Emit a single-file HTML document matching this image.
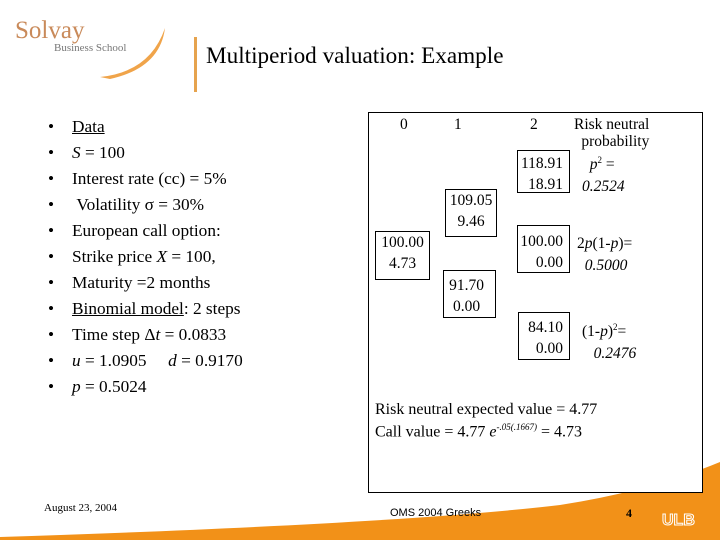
<!DOCTYPE html>
<html><head><meta charset="utf-8"><style>
body{margin:0}
#s{position:relative;width:720px;height:540px;background:#fff;overflow:hidden;font-family:"Liberation Serif",serif;color:#000}
.a{position:absolute;white-space:nowrap}
.li{position:absolute;left:48px;font-size:17.3px;white-space:nowrap}
.li span.b{position:absolute;left:0}
.li span.t{position:absolute;left:24px}
.nb{position:absolute;border:1px solid #000;font-size:15.5px;text-align:right;line-height:21px;box-sizing:border-box;padding:2px 6px 0 0;background:#fff}
.t15{font-size:15.5px}
</style></head><body>
<div id="s">
<svg class="a" style="left:0;top:0" width="720" height="540">
<path d="M0,537 Q400,524 560,505 Q650,491 720,462 L720,540 L0,540 Z" fill="#f29118"/>
<path d="M100,77 Q150,72 165,28 Q160,68 110,79 Z" fill="#f0a44a"/>
<rect x="194" y="37" width="3" height="55" fill="#e6a34e"/>
</svg>
<div class="a" style="left:15px;top:17px;font-size:25px;color:#c98a5a">Solvay</div>
<div class="a" style="left:54px;top:42px;font-size:11px;color:#777">Business School</div>
<div class="a" style="left:206px;top:43px;font-size:23.2px">Multiperiod valuation: Example</div>

<div>
<div class="li" style="top:117px"><span class="b">•</span><span class="t"><u>Data</u></span></div>
<div class="li" style="top:143px"><span class="b">•</span><span class="t"><i>S</i> = 100</span></div>
<div class="li" style="top:169px"><span class="b">•</span><span class="t">Interest rate (cc) = 5%</span></div>
<div class="li" style="top:195px"><span class="b">•</span><span class="t">&nbsp;Volatility σ = 30%</span></div>
<div class="li" style="top:221px"><span class="b">•</span><span class="t">European call option:</span></div>
<div class="li" style="top:247px"><span class="b">•</span><span class="t">Strike price <i>X</i> = 100,</span></div>
<div class="li" style="top:273px"><span class="b">•</span><span class="t">Maturity =2 months</span></div>
<div class="li" style="top:299px"><span class="b">•</span><span class="t"><u>Binomial model</u>: 2 steps</span></div>
<div class="li" style="top:325px"><span class="b">•</span><span class="t">Time step Δ<i>t</i> = 0.0833</span></div>
<div class="li" style="top:351px"><span class="b">•</span><span class="t"><i>u</i> = 1.0905 &nbsp;&nbsp;&nbsp;&nbsp;<i>d</i> = 0.9170</span></div>
<div class="li" style="top:377px"><span class="b">•</span><span class="t"><i>p</i> = 0.5024</span></div>
</div>

<div class="a" style="left:368px;top:112px;width:335px;height:381px;border:1px solid #000;box-sizing:border-box;background:#fff"></div>
<div class="a t15" style="left:400px;top:116px">0</div>
<div class="a t15" style="left:454px;top:116px">1</div>
<div class="a t15" style="left:530px;top:116px">2</div>
<div class="a t15" style="left:574px;top:116px;line-height:17px;text-align:right">Risk neutral<br>probability</div>

<div class="nb" style="left:517px;top:150px;width:53px;height:43px">118.91<br>18.91</div>
<div class="nb" style="left:445px;top:189px;width:52px;height:48px;text-align:center;padding:0">109.05<br>9.46</div>
<div class="nb" style="left:375px;top:231px;width:55px;height:49px;text-align:center;padding:0">100.00<br>4.73</div>
<div class="nb" style="left:517px;top:225px;width:53px;height:48px;padding-top:5px">100.00<br>0.00</div>
<div class="nb" style="left:443px;top:270px;width:53px;height:48px;text-align:center;padding-top:4px">91.70<br>0.00</div>
<div class="nb" style="left:518px;top:312px;width:52px;height:48px;padding-top:4px">84.10<br>0.00</div>

<div class="a t15" style="left:582px;top:149px;line-height:22px"><i>&nbsp;&nbsp;p</i><sup style="font-size:9px">2</sup> =<br><i>0.2524</i></div>
<div class="a t15" style="left:577px;top:233px;line-height:22px">2<i>p</i>(1-<i>p</i>)=<br><i>&nbsp;&nbsp;0.5000</i></div>
<div class="a t15" style="left:582px;top:316px;line-height:22px">(1-<i>p</i>)<sup style="font-size:9px">2</sup>=<br><i>&nbsp;&nbsp;&nbsp;0.2476</i></div>

<div class="a" style="left:375px;top:401px;font-size:16px">Risk neutral expected value = 4.77</div>
<div class="a" style="left:375px;top:422px;font-size:16px">Call value = 4.77 <i>e</i><sup style="font-size:9px"><i>-.05(.1667)</i></sup> = 4.73</div>

<div class="a" style="left:44px;top:502px;font-size:11px">August 23, 2004</div>
<div class="a" style="left:390px;top:507px;font-size:11px;font-family:'Liberation Sans',sans-serif">OMS 2004 Greeks</div>
<div class="a" style="left:626px;top:506px;font-size:12px;font-weight:bold">4</div>
<div class="a" style="left:662px;top:512px;font-size:16px;font-weight:bold;color:#f29118;-webkit-text-stroke:1px #fff;font-family:'Liberation Sans',sans-serif">ULB</div>
</div>
</body></html>
